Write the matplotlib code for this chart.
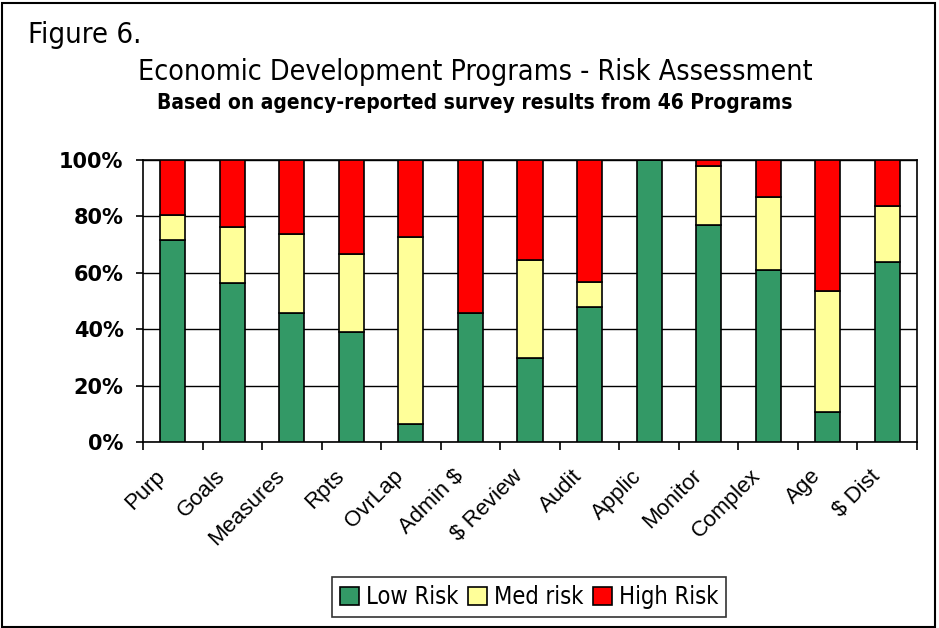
import numpy as np
import matplotlib
matplotlib.use("Agg")
import matplotlib.pyplot as plt
from matplotlib.patches import Rectangle
from matplotlib.ticker import FuncFormatter

# data (percent of programs)
categories = ["Purp", "Goals", "Measures", "Rpts", "OvrLap", "Admin $", "$ Review",
              "Audit", "Applic", "Monitor", "Complex", "Age", "$ Dist"]
low_risk = [71.7, 56.5, 45.7, 39.0, 6.5, 45.9, 29.8, 48.0, 100.0, 77.0, 60.9, 10.6, 63.9]
med_risk = [8.7, 19.6, 28.2, 27.5, 66.3, 0.0, 34.7, 8.7, 0.0, 20.8, 26.0, 43.1, 19.8]
high_risk = [100 - l - m for l, m in zip(low_risk, med_risk)]

series = [("Low Risk", low_risk, "#339966"),
          ("Med risk", med_risk, "#FFFF99"),
          ("High Risk", high_risk, "#FF0000")]

fig = plt.figure(figsize=(9.39, 6.28), dpi=100)
fig.patches.append(Rectangle((0.002, 0.002), 0.994, 0.994, transform=fig.transFigure,
                             fill=False, edgecolor="black", linewidth=1.5))

ax = fig.add_axes([143 / 939, 1 - 442 / 628, 774 / 939, 282 / 628])
x = np.arange(len(categories))
bottom = np.zeros(len(categories))
for name, vals, color in series:
    vals = np.array(vals)
    ax.bar(x, vals, 0.42, bottom=bottom, color=color, edgecolor="black",
           linewidth=1.2, label=name, zorder=3)
    bottom += vals

ax.set_xlim(-0.5, len(categories) - 0.5)
ax.set_ylim(0, 100)
ax.set_yticks(range(0, 101, 20))
ax.yaxis.set_major_formatter(FuncFormatter(lambda v, p: "%d%%" % v))
ax.yaxis.grid(True, color="black", linewidth=1, zorder=0)
for s in ax.spines.values():
    s.set_linewidth(1.2)
ax.tick_params(axis="y", labelsize=15, length=5, width=1.2, pad=9)
for t in ax.get_yticklabels():
    t.set_fontweight("bold")

# ticks at category boundaries; rotated labels end a little left of each centre
ax.set_xticks(np.arange(-0.5, len(categories), 1.0))
ax.set_xticklabels([])
ax.tick_params(axis="x", which="major", length=6, width=1.2)
ax.set_xticks(x - 0.3, minor=True)
ax.set_xticklabels(categories, minor=True, rotation=45, ha="right",
                   rotation_mode="anchor", fontsize=16, family="Liberation Sans")
ax.tick_params(axis="x", which="minor", length=0, pad=17)

fig.text(28 / 939, 1 - 35 / 628, "Figure 6.", fontsize=21, fontstretch="condensed",
         va="center", ha="left")
fig.text(475 / 939, 1 - 72 / 628, "Economic Development Programs - Risk Assessment",
         fontsize=20.5, fontstretch="condensed", va="center", ha="center")
fig.text(475 / 939, 1 - 103 / 628, "Based on agency-reported survey results from 46 Programs",
         fontsize=15, fontweight="bold", fontstretch="condensed",
         va="center", ha="center")

leg = fig.legend(loc="center", bbox_to_anchor=(529 / 939, 1 - 597 / 628), ncol=3,
                 frameon=True, fancybox=False, edgecolor="black",
                 prop={"size": 17, "stretch": "condensed"}, handlelength=0.8,
                 handleheight=0.8, handletextpad=0.3, columnspacing=0.4,
                 borderpad=0.35)
leg.get_frame().set_linewidth(1.2)

fig.savefig("out.png", dpi=100)
